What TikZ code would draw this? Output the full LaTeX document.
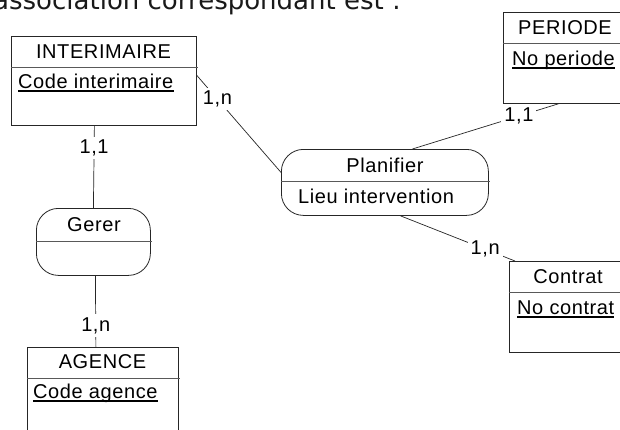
\documentclass[tikz,border=0pt]{standalone}
\usepackage{fontspec}
\newfontfamily\erfont[LetterSpace=3]{Liberation Sans}
\newfontfamily\headfont{DejaVu Sans}
\begin{document}
\begin{tikzpicture}[x=1pt,y=-1pt,
  ent/.style={draw=black!85, line width=0.8pt, rectangle, inner sep=0pt, anchor=north west},
  assoc/.style={draw=black!85, line width=0.8pt, rectangle, rounded corners=22pt, inner sep=0pt, anchor=north west},
  ttl/.style={font=\erfont\fontsize{20}{24}\selectfont, anchor=base, inner sep=0pt, text=black},
  attr/.style={font=\erfont\fontsize{20}{24}\selectfont, anchor=base west, inner sep=0pt, text=black},
  card/.style={font=\erfont\fontsize{20}{24}\selectfont, fill=white, inner sep=3pt, text=black},
  link/.style={draw=black!85, line width=0.7pt},
  sepline/.style={draw=black!65, line width=0.8pt},
  uline/.style={draw=black, line width=1.5pt}
]
\useasboundingbox (0,0) rectangle (620,429);
\clip (0,0) rectangle (620,429);
\fill[white] (0,0) rectangle (620,429);

% heading text
\node[anchor=base west, inner sep=0pt, font=\headfont\fontsize{26}{30}\selectfont, text=black!90] (head) at (-7,9.5) {association correspondant est :};

% entities
\node[ent, minimum width=185pt, minimum height=89pt] (interim) at (11,36) {};
\draw[sepline] (interim.west |- 0,67) -- ++(187,0);
\node[ttl] (interimT) at (103.5,58) {INTERIMAIRE};
\node[attr] (interimA) at (18,88) {Code interimaire};
\draw[uline] ([yshift=-3pt]interimA.base west) -- ([yshift=-3pt]interimA.base east);

\node[ent, minimum width=124pt, minimum height=91pt] (periode) at (503,12) {};
\draw[sepline] (periode.west |- 0,43) -- ++(126,0);
\node[ttl] (periodeT) at (565,34) {PERIODE};
\node[attr] (periodeA) at (512,65) {No periode};
\draw[uline] ([yshift=-3pt]periodeA.base west) -- ([yshift=-3pt]periodeA.base east);

\node[ent, minimum width=124pt, minimum height=91pt] (contrat) at (509,261) {};
\draw[sepline] (contrat.west |- 0,292) -- ++(126,0);
\node[ttl] (contratT) at (568,283) {Contrat};
\node[attr] (contratA) at (517,314) {No contrat};
\draw[uline] ([yshift=-3pt]contratA.base west) -- ([yshift=-3pt]contratA.base east);

\node[ent, minimum width=151pt, minimum height=100pt] (agence) at (27,347) {};
\draw[sepline] (agence.west |- 0,378) -- ++(153,0);
\node[ttl] (agenceT) at (102.5,368) {AGENCE};
\node[attr] (agenceA) at (33,398) {Code agence};
\draw[uline] ([yshift=-3pt]agenceA.base west) -- ([yshift=-3pt]agenceA.base east);

% associations
\node[assoc, minimum width=114pt, minimum height=67pt] (gerer) at (36,208) {};
\draw[sepline] (gerer.west |- 0,241) -- ++(116,0);
\node[ttl] (gererT) at (94,231) {Gerer};

\node[assoc, minimum width=207pt, minimum height=66pt] (plan) at (281,149) {};
\draw[sepline] (plan.west |- 0,181) -- ++(209,0);
\node[ttl] (planT) at (385,172) {Planifier};
\node[attr] (planA) at (298,203) {Lieu intervention};

% connectors
\draw[link] ([yshift=5.5pt]interim.east) -- node[card, pos=0.245] (c1) {1,n} ([yshift=10pt]plan.west);
\draw[link] ([xshift=-7pt]periode.south) -- node[card, pos=0.27] (c2) {1,1} ([xshift=27.5pt]plan.north);
\draw[link] ([xshift=15.5pt]plan.south) -- node[card, pos=0.74] (c3) {1,n} ([xshift=6pt]contrat.north west);
\draw[link] ([xshift=-9.5pt]interim.south) -- node[card, pos=0.27] (c4) {1,1} ([xshift=0pt]gerer.north);
\draw[link] ([xshift=2pt]gerer.south) -- node[card, pos=0.7] (c5) {1,n} ([xshift=-7pt]agence.north);
\end{tikzpicture}
\end{document}
